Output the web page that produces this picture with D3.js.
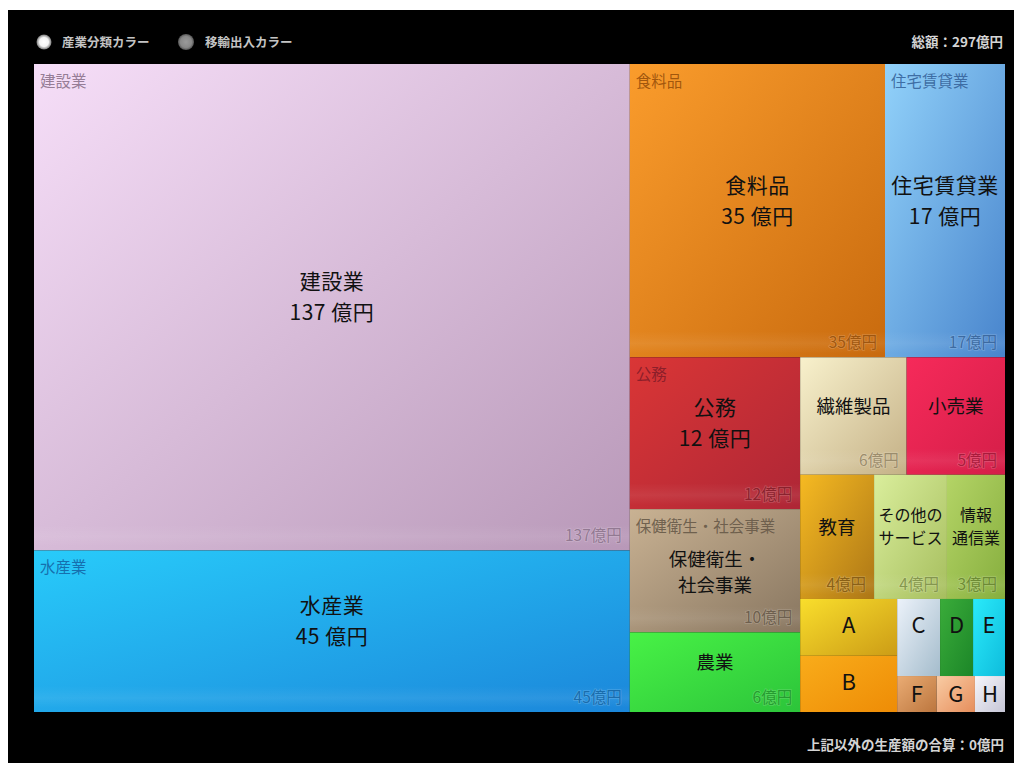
<!DOCTYPE html>
<html>
<head>
<meta charset="utf-8">
<script src="https://cdn.jsdelivr.net/npm/d3@7"></script>
<style>
  html, body { margin: 0; padding: 0; background: #fff; }
  svg { display: block; }
  text { font-family: "Noto Sans CJK JP", "Noto Sans", sans-serif; }
</style>
</head>
<body>
<svg id="chart" width="1014" height="763"></svg>
<script>
// Production value by industry (億円)
const industries = ["建設業", "水産業", "食料品", "住宅賃貸業", "公務", "保健衛生・社会事業",
  "農業", "繊維製品", "小売業", "教育", "その他のサービス", "情報通信業",
  "A", "B", "C", "D", "E", "F", "G", "H"];
const outputValues = [136.7, 45.4, 35.3, 16.6, 12.2, 9.9,
  6.4, 5.9, 5.45, 4.33, 4.27, 3.4,
  2.6, 2.57, 1.56, 1.2, 1.16, 0.67, 0.65, 0.51];
// Names as written inside the tiles ("|" = line break)
const tileNames = ["建設業", "水産業", "食料品", "住宅賃貸業", "公務", "保健衛生・|社会事業",
  "農業", "繊維製品", "小売業", "教育", "その他の|サービス", "情報|通信業",
  "A", "B", "C", "D", "E", "F", "G", "H"];
const legendLabels = ["産業分類カラー", "移輸出入カラー"];
const otherTotal = 0;

// Industry palette: light (upper-left) and deep (lower-right) tones
const lightPalette = ["#f6def8", "#28cbfa", "#fa9c2c", "#92d2fa", "#da3636", "#c9b293",
  "#48f246", "#f8f1cc", "#f62a5a", "#f6ba22", "#daee9c", "#b4d466",
  "#f9de2c", "#f9ac1a", "#ecf2fa", "#3aac3a", "#2aeafa", "#eaac74", "#f9cca4", "#f6f6fb"];
const deepPalette = ["#b898b8", "#1b86da", "#c86a0e", "#4884cc", "#ae2636", "#887660",
  "#2cc43a", "#c4b086", "#d41e48", "#ac7616", "#a6be5e", "#86ae3e",
  "#cc9c16", "#ee8c06", "#a4bccc", "#1c8628", "#0ebcdc", "#bc763e", "#e68e5c", "#c6c6d6"];

const W = 1014, H = 763;
const svg = d3.select("#chart");
const defs = svg.append("defs");

// dark panel
svg.append("rect").attr("x", 8).attr("y", 10).attr("width", W - 8).attr("height", H - 10).attr("fill", "#000");

const area = { x: 34, y: 64, w: 971, h: 648 };

const data = industries.map((name, i) => ({
  name, value: outputValues[i], label: tileNames[i],
  light: lightPalette[i], deep: deepPalette[i], idx: i
}));

const root = d3.hierarchy({ children: data })
  .sum(d => d.value || 0)
  .sort((a, b) => b.value - a.value);

d3.treemap()
  .tile(d3.treemapSquarify)
  .size([area.w, area.h])
  .paddingInner(0)(root);

const total = root.value;

const g = svg.append("g").attr("transform", `translate(${area.x},${area.y})`);

const leaves = root.leaves();

leaves.forEach(n => {
  const gr = defs.append("linearGradient")
    .attr("id", "grad" + n.data.idx)
    .attr("x1", 0).attr("y1", 0).attr("x2", 1).attr("y2", 1);
  gr.append("stop").attr("offset", "0%").attr("stop-color", n.data.light);
  gr.append("stop").attr("offset", "100%").attr("stop-color", n.data.deep);
});
// faint sheen near the bottom of each large tile
const sheen = defs.append("linearGradient").attr("id", "sheen").attr("x1", 0).attr("y1", 0).attr("x2", 0).attr("y2", 1);
sheen.append("stop").attr("offset", "0%").attr("stop-color", "#fff").attr("stop-opacity", 0);
sheen.append("stop").attr("offset", "55%").attr("stop-color", "#fff").attr("stop-opacity", 0.07);
sheen.append("stop").attr("offset", "100%").attr("stop-color", "#fff").attr("stop-opacity", 0);

const cell = g.selectAll("g.cell").data(leaves).join("g").attr("class", "cell");

cell.append("rect")
  .attr("x", d => d.x0).attr("y", d => d.y0)
  .attr("width", d => d.x1 - d.x0).attr("height", d => d.y1 - d.y0)
  .attr("fill", d => `url(#grad${d.data.idx})`);

cell.filter(d => d.y1 - d.y0 >= 100).append("rect")
  .attr("x", d => d.x0).attr("y", d => d.y1 - 26)
  .attr("width", d => d.x1 - d.x0).attr("height", 22)
  .attr("fill", "url(#sheen)");

const inkOf = d => {
  const c = d3.color(d.data.deep).darker(0.75);
  c.opacity = 0.92;
  return c.formatRgb();
};

const hasHeader = d => (d.x1 - d.x0) >= 115 && (d.y1 - d.y0) >= 110;
const hasValueTag = d => (d.y1 - d.y0) >= 60 && (d.x1 - d.x0) >= 50;

// group header (top-left)
cell.filter(hasHeader)
  .append("text")
  .attr("x", d => d.x0 + 6).attr("y", d => d.y0 + 23)
  .attr("font-size", 15.5)
  .attr("fill", inkOf)
  .text(d => d.data.name);

// value tag (bottom-right)
cell.filter(hasValueTag)
  .append("text")
  .attr("x", d => d.x1 - 8).attr("y", d => d.y1 - 9)
  .attr("text-anchor", "end")
  .attr("font-size", 15.5)
  .attr("fill", inkOf)
  .attr("stroke", "rgba(255,255,255,0.18)")
  .attr("stroke-width", 1.5)
  .attr("paint-order", "stroke")
  .text(d => `${Math.round(d.value)}億円`);

// centred name (and value for larger tiles)
cell.each(function (d) {
  const w = d.x1 - d.x0, h = d.y1 - d.y0;
  const lines = d.data.label.split("|");
  const big = h >= 140 && w >= 110;
  if (big) lines.push(`${Math.round(d.value)} 億円`);
  const single = d.data.label.length === 1;
  const fs = big ? 21 : single ? 22 : (lines.length > 1 && w < 120) ? 16 : 18.5;
  const lh = big ? 31 : fs >= 18 ? 26 : 23;
  const cx = (d.x0 + d.x1) / 2;
  let cy;
  if (big) cy = (d.y0 + d.y1) / 2 - 10;
  else if (hasValueTag(d)) cy = ((hasHeader(d) ? d.y0 + 24 : d.y0) + d.y1 - 20) / 2;
  else cy = Math.min((d.y0 + d.y1) / 2, d.y0 + 26);
  const t = d3.select(this).append("text")
    .attr("text-anchor", "middle")
    .attr("font-size", fs)
    .attr("letter-spacing", big ? 0.5 : 0)
    .attr("fill", "#111");
  lines.forEach((ln, i) => {
    t.append("tspan")
      .attr("x", cx)
      .attr("y", cy + (i - (lines.length - 1) / 2) * lh)
      .attr("dy", "0.36em")
      .text(ln);
  });
});

// legend
const dotW = defs.append("radialGradient").attr("id", "dotWhite");
dotW.append("stop").attr("offset", "0%").attr("stop-color", "#fff");
dotW.append("stop").attr("offset", "60%").attr("stop-color", "#f4f4f4");
dotW.append("stop").attr("offset", "100%").attr("stop-color", "#777");
const dotG = defs.append("radialGradient").attr("id", "dotGray");
dotG.append("stop").attr("offset", "0%").attr("stop-color", "#9a9a9a");
dotG.append("stop").attr("offset", "70%").attr("stop-color", "#888");
dotG.append("stop").attr("offset", "100%").attr("stop-color", "#555");

const legendX = d3.scalePoint().domain(legendLabels).range([44, 186]);
const lg = svg.append("g").selectAll("g").data(legendLabels).join("g")
  .attr("transform", d => `translate(${legendX(d)},42)`);
lg.append("circle").attr("r", (d, i) => i === 0 ? 7.5 : 8)
  .attr("fill", (d, i) => i === 0 ? "url(#dotWhite)" : "url(#dotGray)");
lg.append("text").attr("x", (d, i) => i === 0 ? 18 : 19).attr("dy", "0.36em")
  .attr("font-size", 12.5).attr("fill", "#c4c4c4").attr("font-weight", 700)
  .text(d => d);

svg.append("text")
  .attr("x", 1003).attr("y", 42).attr("dy", "0.36em")
  .attr("text-anchor", "end").attr("font-size", 13.5).attr("font-weight", 700)
  .attr("fill", "#d4d4d4")
  .text(`総額：${Math.round(total)}億円`);

svg.append("text")
  .attr("x", 1004).attr("y", 745).attr("dy", "0.36em")
  .attr("text-anchor", "end").attr("font-size", 13.5).attr("font-weight", 700)
  .attr("fill", "#d4d4d4")
  .text(`上記以外の生産額の合算：${otherTotal}億円`);
</script>
</body>
</html>
